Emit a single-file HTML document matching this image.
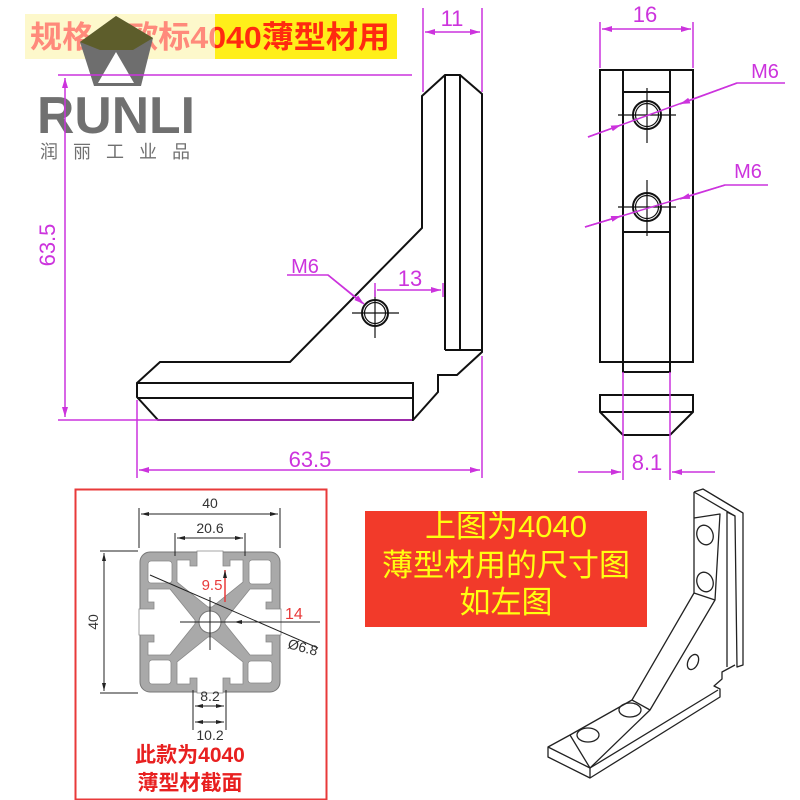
<!DOCTYPE html>
<html><head><meta charset="utf-8"><style>
html,body{margin:0;padding:0;background:#fff;}
svg{display:block;}
text{font-family:"Liberation Sans","Noto Sans CJK SC",sans-serif;}
</style></head><body>
<svg width="800" height="800" viewBox="0 0 800 800" xmlns="http://www.w3.org/2000/svg">
<defs>
<marker id="a" viewBox="0 0 10 6" refX="10" refY="3" markerWidth="10" markerHeight="6" orient="auto-start-reverse" markerUnits="userSpaceOnUse"><path d="M0,0 L10,3 L0,6 Z" fill="#cc33dd"/></marker>
<marker id="k" viewBox="0 0 8 4" refX="8" refY="2" markerWidth="8" markerHeight="4" orient="auto-start-reverse" markerUnits="userSpaceOnUse"><path d="M0,0 L8,2 L0,4 Z" fill="#222"/></marker>
</defs>
<!-- title banner -->
<rect x="25" y="14" width="372" height="45" fill="#ffef1a"/>
<rect x="25" y="14" width="190" height="45" fill="#fbf3a0"/>
<text x="30" y="48" font-size="31" font-weight="bold" fill="#ff2a10" textLength="360" lengthAdjust="spacingAndGlyphs">规格：欧标4040薄型材用</text>
<rect x="25" y="14" width="190" height="45" fill="#ffffff" opacity="0.45"/>
<!-- logo -->
<polygon points="116,16 153,38 141,86 94,86 80,42" fill="#6e6e6e"/>
<polygon points="116,16 153,38 133,50 100,50 80,42" fill="#5a5a20" opacity="0.85"/>
<polygon points="100,50 133,50 133,84 100,84" fill="#6e6e6e"/>
<polygon points="116,52 134,83 98,83" fill="#fff"/>
<text x="37" y="133" font-size="52" font-weight="bold" fill="#707070" textLength="158" lengthAdjust="spacingAndGlyphs">RUNLI</text>
<text x="40" y="158" font-size="18" fill="#707070" letter-spacing="15">润丽工业品</text>

<!-- front view -->
<g fill="none" stroke="#111" stroke-width="2">
<path d="M422,96 L445,75 L460,75 L482,94 L482,352 L457,375 L438,375 L438,392 L413,420 L158,420 L137,397 L137,383 L160,362 L290,362 L422,228 Z"/>
<path d="M445,75 V350 M460,75 V350 M445,350 H482"/>
<path d="M137,383 H413 V420 M137,398 H413"/>
<circle cx="375" cy="313" r="13"/><circle cx="375" cy="313" r="10.5" stroke-width="1.2"/>
</g>
<path d="M352,313 H399 M375,290 V338" stroke="#111" stroke-width="1.2"/>
<g stroke="#cc33dd" stroke-width="1.5" fill="none">
<path d="M58,75 H412 M58,420 H412"/>
<path d="M65,78 V417" marker-start="url(#a)" marker-end="url(#a)"/>
<path d="M137,400 V478 M482,356 V478"/>
<path d="M139,470 H480" marker-start="url(#a)" marker-end="url(#a)"/>
<path d="M423,8 V92 M482,8 V92"/>
<path d="M425,32 H480" marker-start="url(#a)" marker-end="url(#a)"/>
<path d="M377,290 H441" marker-end="url(#a)"/><path d="M375,283 V297 M443,283 V297"/>
<path d="M287,275 H328 L362,303" /><path d="M328,275 L364,304" marker-end="url(#a)"/>
</g>
<g fill="#cc33dd" font-size="22">
<text x="55" y="245" transform="rotate(-90 55 245)" text-anchor="middle">63.5</text>
<text x="310" y="467" text-anchor="middle">63.5</text>
<text x="452" y="26" text-anchor="middle">11</text>
<text x="410" y="286" text-anchor="middle">13</text>
<text x="305" y="273" text-anchor="middle" font-size="20">M6</text>
</g>

<!-- side view -->
<g fill="none" stroke="#111" stroke-width="2">
<rect x="600" y="70" width="93" height="292"/>
<path d="M623,70 V372 H670 V70 M623,92 H670 M623,232 H670"/>
<path d="M600,395 H693 V412 L670,435 H623 L600,412 Z M600,412 H693"/>
<circle cx="647" cy="115" r="14"/><circle cx="647" cy="207" r="14"/>
</g>
<g stroke="#111" stroke-width="1.2" fill="none">
<circle cx="647" cy="115" r="11.5"/><circle cx="647" cy="207" r="11.5"/>
<path d="M618,115 H676 M647,88 V143 M618,207 H676 M647,180 V236"/>
</g>
<g stroke="#cc33dd" stroke-width="1.5" fill="none">
<path d="M600,22 V68 M693,22 V68"/>
<path d="M602,29 H691" marker-start="url(#a)" marker-end="url(#a)"/>
<path d="M623,372 V480 M670,372 V480"/>
<path d="M578,472 H621" marker-end="url(#a)"/><path d="M715,472 H672" marker-end="url(#a)"/>
<path d="M588,137 L737,83 H785 M585,227 L725,185 H768"/>
<path d="M588,137 L621,125" marker-end="url(#a)"/><path d="M737,83 L680,104" marker-end="url(#a)"/>
<path d="M585,227 L621,216" marker-end="url(#a)"/><path d="M725,185 L680,199" marker-end="url(#a)"/>
</g>
<g fill="#cc33dd" font-size="22">
<text x="645" y="22" text-anchor="middle">16</text>
<text x="647" y="470" text-anchor="middle">8.1</text>
<text x="765" y="78" text-anchor="middle" font-size="20">M6</text>
<text x="748" y="178" text-anchor="middle" font-size="20">M6</text>
</g>

<!-- section box -->
<rect x="75.5" y="489.5" width="251" height="310" fill="none" stroke="#e83a3a" stroke-width="2"/>
<g transform="translate(140,552)">
<rect x="0" y="0" width="140" height="140" rx="10" fill="#a9a9a9" stroke="#777" stroke-width="1"/>
<g id="q" fill="#fff" stroke="#888" stroke-width="0.8">
<path d="M57,-1 H83 V14 H90 V8 H103 V30 L72,55 H68 L37,30 V8 H50 V14 H57 Z"/>
<rect x="8" y="9" width="24" height="22" rx="3"/>
</g>
<use href="#q" transform="rotate(90 70 70)"/>
<use href="#q" transform="rotate(180 70 70)"/>
<use href="#q" transform="rotate(270 70 70)"/>
<circle cx="70" cy="70" r="11" fill="#fff" stroke="#777"/>
</g>
<g stroke="#222" stroke-width="1" fill="none">
<path d="M150,575 L318,648"/>
<path d="M180,622 H305 M210,597 V650"/>
<path d="M139,548 V508 M280,548 V508"/>
<path d="M141,514 H278" marker-start="url(#k)" marker-end="url(#k)"/>
<path d="M175,556 V533 M245,556 V533"/>
<path d="M177,538 H243" marker-start="url(#k)" marker-end="url(#k)"/>
<path d="M138,551 H100 M138,693 H100"/>
<path d="M104,553 V691" marker-start="url(#k)" marker-end="url(#k)"/>
<path d="M193,690 V730 M226,690 V730"/>
<path d="M195,706 H224" marker-start="url(#k)" marker-end="url(#k)"/>
<path d="M195,722 H224" marker-start="url(#k)" marker-end="url(#k)"/>
<path d="M282,622 H320 M272,622 H240" /><path d="M240,622 L234,622" marker-end="url(#k)"/>
</g>
<path d="M225,602 V570" stroke="#e83a3a" stroke-width="1.5" marker-end="url(#k)"/>
<g fill="#333" font-size="14">
<text x="210" y="508" text-anchor="middle">40</text>
<text x="210" y="533" text-anchor="middle">20.6</text>
<text x="98" y="622" text-anchor="middle" transform="rotate(-90 98 622)">40</text>
<text x="210" y="701" text-anchor="middle">8.2</text>
<text x="210" y="740" text-anchor="middle">10.2</text>
<text x="287" y="648" transform="rotate(15 287 648)">Ø6.8</text>
</g>
<text x="212" y="590" text-anchor="middle" font-size="15" fill="#e83a3a">9.5</text>
<text x="285" y="619" font-size="16" fill="#e83a3a">14</text>
<text x="190" y="762" text-anchor="middle" font-size="21" font-weight="bold" fill="#e82020">此款为4040</text>
<text x="190" y="790" text-anchor="middle" font-size="21" font-weight="bold" fill="#e82020">薄型材截面</text>

<!-- red note -->
<rect x="365" y="511" width="282" height="116" fill="#f23a2a"/>
<g fill="#ffff10" font-size="31" text-anchor="middle">
<text x="506" y="537">上图为4040</text>
<text x="506" y="576">薄型材用的尺寸图</text>
<text x="506" y="613">如左图</text>
</g>

<!-- iso bracket -->
<g fill="none" stroke="#222" stroke-width="1.3" stroke-linejoin="round">
<path d="M694,492 L703,489 L743,513 L743,665 L737,667 L735,516 L727,512 L727,667"/>
<path d="M703,489 L743,513 M694,492 L735,516"/>
<path d="M694,492 V593 L632,700 L570,735 L548,747 L548,757 L590,778 L720,697 L720,689 L714,686 L722,679 L722,672 L735,665"/>
<path d="M694,518 L720,514 L715,600 L650,710 L590,768 L548,747"/>
<path d="M694,593 L715,600 M632,700 L650,710 M570,735 L590,768 M590,768 L590,778 M590,768 L718,690"/>
<ellipse cx="705" cy="535" rx="8" ry="10" transform="rotate(-20 705 535)"/>
<ellipse cx="705" cy="582" rx="8" ry="10" transform="rotate(-20 705 582)"/>
<ellipse cx="693" cy="662" rx="5" ry="8" transform="rotate(25 693 662)"/>
<ellipse cx="630" cy="710" rx="11" ry="7"/>
<ellipse cx="588" cy="735" rx="11" ry="7"/>
</g>
</svg>
</body></html>
